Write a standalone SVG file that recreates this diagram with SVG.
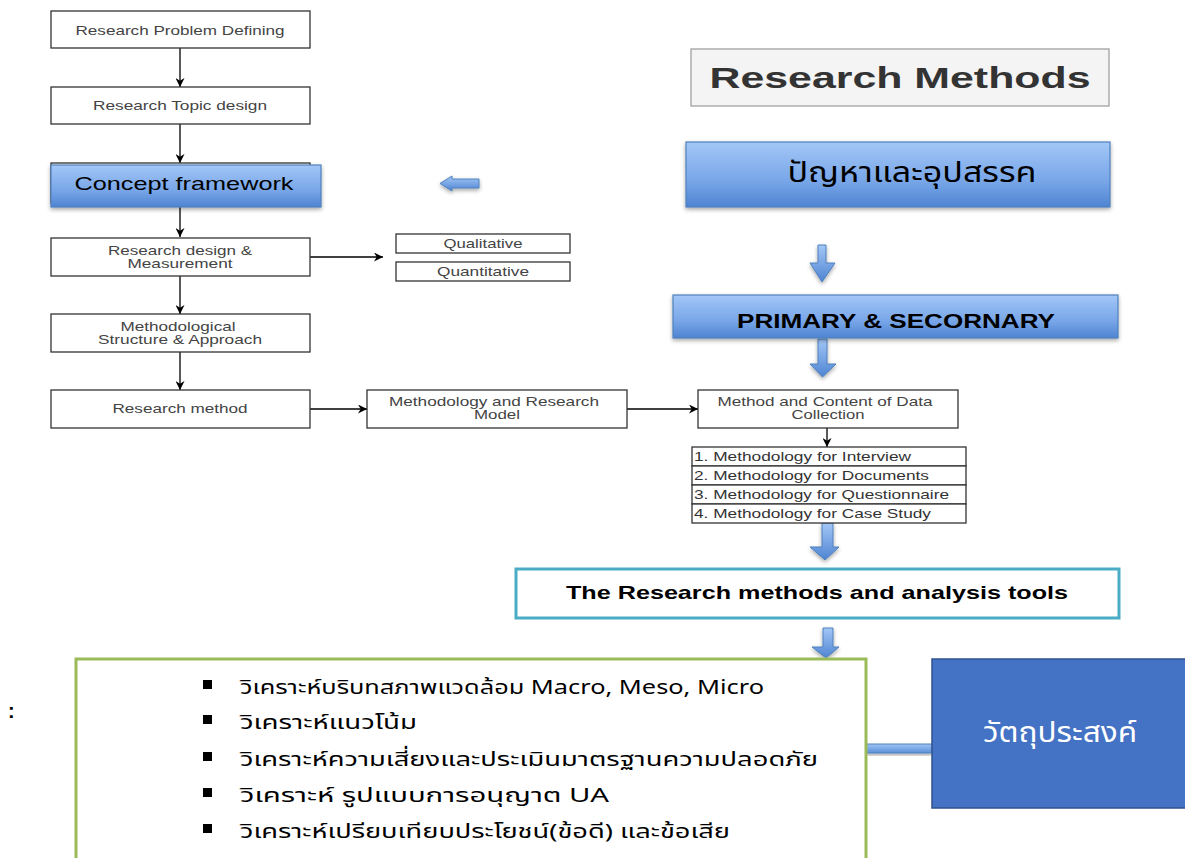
<svg xmlns="http://www.w3.org/2000/svg" width="1185" height="858" viewBox="0 0 1185 858">
<defs>
<linearGradient id="blueG" x1="0" y1="0" x2="0" y2="1">
<stop offset="0" stop-color="#a3c7f7"/>
<stop offset="0.6" stop-color="#78a6e8"/>
<stop offset="1" stop-color="#4f84d2"/>
</linearGradient>
<linearGradient id="arrG" x1="0" y1="0" x2="0" y2="1">
<stop offset="0" stop-color="#a3c7f7"/>
<stop offset="1" stop-color="#4f84d2"/>
</linearGradient>
<linearGradient id="arrH" x1="0" y1="0" x2="0" y2="1">
<stop offset="0" stop-color="#9fc4f5"/>
<stop offset="1" stop-color="#5b8fd8"/>
</linearGradient>
<filter id="sh" x="-10%" y="-20%" width="120%" height="150%">
<feGaussianBlur in="SourceAlpha" stdDeviation="2"/>
<feOffset dx="0" dy="2" result="b"/>
<feComponentTransfer><feFuncA type="linear" slope="0.35"/></feComponentTransfer>
<feMerge><feMergeNode/><feMergeNode in="SourceGraphic"/></feMerge>
</filter>
<marker id="ah" viewBox="0 0 10 10" refX="10" refY="5" markerWidth="9" markerHeight="9" markerUnits="userSpaceOnUse" orient="auto">
<path d="M0,0 L10,5 L0,10 L3,5 z" fill="#000"/>
</marker>
</defs>
<style>
.wb{fill:#fff;stroke:#333;stroke-width:1.3}
.t{font-family:"Liberation Sans",Arial,sans-serif;font-size:13px;fill:#444;text-anchor:middle}
.tl{font-family:"Liberation Sans",Arial,sans-serif;font-size:13px;fill:#333}
.bb{fill:url(#blueG);stroke:#4f81bd;stroke-width:1.2}
.ba{fill:url(#arrG);stroke:#4f81bd;stroke-width:1}
.c{stroke:#000;stroke-width:1.3;fill:none}
.th{font-family:"Noto Sans","Noto Sans Thai",Tahoma,sans-serif;font-size:20px;fill:#000}
</style>
<rect width="1185" height="858" fill="#fff"/>

<g id="connectors">
<line class="c" x1="180" y1="48" x2="180" y2="87" marker-end="url(#ah)"/>
<line class="c" x1="180" y1="124" x2="180" y2="163" marker-end="url(#ah)"/>
<line class="c" x1="180" y1="207" x2="180" y2="237" marker-end="url(#ah)"/>
<line class="c" x1="180" y1="276" x2="180" y2="314" marker-end="url(#ah)"/>
<line class="c" x1="180" y1="352" x2="180" y2="390" marker-end="url(#ah)"/>
<line class="c" x1="310" y1="257" x2="383" y2="257" marker-end="url(#ah)"/>
<line class="c" x1="310" y1="409" x2="367" y2="409" marker-end="url(#ah)"/>
<line class="c" x1="627" y1="409" x2="698" y2="409" marker-end="url(#ah)"/>
<line class="c" x1="827" y1="428" x2="827" y2="447" marker-end="url(#ah)"/>
<path class="ba" filter="url(#sh)" d="M479,179 L452,179 L452,176 L440,183.5 L452,191 L452,188 L479,188 z"/>
<path class="ba" filter="url(#sh)" d="M818,245 L826,245 L826,263 L835,263 L822,282 L810,263 L818,263 z"/>
<path class="ba" filter="url(#sh)" d="M818,339 L827,339 L827,364 L836,364 L822.5,377 L810,364 L818,364 z"/>
<path class="ba" filter="url(#sh)" d="M822,523 L833,523 L833,547 L839,547 L825,560 L810,547 L822,547 z"/>
<path class="ba" filter="url(#sh)" d="M823,628 L833,628 L833,647 L839,647 L826,658 L812,647 L823,647 z"/>
<rect x="866" y="744" width="66" height="9" fill="url(#arrH)" stroke="#4f81bd" stroke-width="1" filter="url(#sh)"/>
</g>

<g id="n-problem">
<rect class="wb" x="51" y="11" width="259" height="37"/>
<text class="t" x="180" y="35" textLength="209" lengthAdjust="spacingAndGlyphs">Research Problem Defining</text>
</g>
<g id="n-topic">
<rect class="wb" x="51" y="87" width="259" height="37"/>
<text class="t" x="180" y="110" textLength="174" lengthAdjust="spacingAndGlyphs">Research Topic design</text>
</g>
<g id="n-concept">
<rect class="wb" x="51" y="163" width="259" height="40"/>
<rect class="bb" x="51" y="165" width="270" height="42" filter="url(#sh)"/>
<text x="184" y="190" font-family="'Liberation Sans',Arial,sans-serif" font-size="19" fill="#000" text-anchor="middle" textLength="219" lengthAdjust="spacingAndGlyphs">Concept framework</text>
</g>
<g id="n-design">
<rect class="wb" x="51" y="238" width="259" height="38"/>
<text class="t" x="180" y="255" textLength="144" lengthAdjust="spacingAndGlyphs">Research design &amp;</text>
<text class="t" x="180" y="268" textLength="105" lengthAdjust="spacingAndGlyphs">Measurement</text>
</g>
<g id="n-qual">
<rect class="wb" x="396" y="234" width="174" height="19"/>
<text class="t" x="483" y="248" textLength="79" lengthAdjust="spacingAndGlyphs">Qualitative</text>
</g>
<g id="n-quant">
<rect class="wb" x="396" y="262" width="174" height="19"/>
<text class="t" x="483" y="276" textLength="92" lengthAdjust="spacingAndGlyphs">Quantitative</text>
</g>
<g id="n-structure">
<rect class="wb" x="51" y="314" width="259" height="38"/>
<text class="t" x="178" y="331" textLength="115" lengthAdjust="spacingAndGlyphs">Methodological</text>
<text class="t" x="180" y="344" textLength="164" lengthAdjust="spacingAndGlyphs">Structure &amp; Approach</text>
</g>
<g id="n-method">
<rect class="wb" x="51" y="390" width="259" height="38"/>
<text class="t" x="180" y="413" textLength="135" lengthAdjust="spacingAndGlyphs">Research method</text>
</g>
<g id="n-model">
<rect class="wb" x="367" y="390" width="260" height="38"/>
<text class="t" x="494" y="406" textLength="210" lengthAdjust="spacingAndGlyphs">Methodology and Research</text>
<text class="t" x="497" y="419" textLength="46" lengthAdjust="spacingAndGlyphs">Model</text>
</g>
<g id="n-collection">
<rect class="wb" x="698" y="390" width="260" height="38"/>
<text class="t" x="825" y="406" textLength="215" lengthAdjust="spacingAndGlyphs">Method and Content of Data</text>
<text class="t" x="828" y="419" textLength="73" lengthAdjust="spacingAndGlyphs">Collection</text>
</g>
<g id="n-list">
<rect class="wb" x="692" y="447" width="274" height="19"/>
<rect class="wb" x="692" y="466" width="274" height="19"/>
<rect class="wb" x="692" y="485" width="274" height="19"/>
<rect class="wb" x="692" y="504" width="274" height="19"/>
<text class="tl" x="694" y="461" textLength="217" lengthAdjust="spacingAndGlyphs">1. Methodology for Interview</text>
<text class="tl" x="694" y="480" textLength="235" lengthAdjust="spacingAndGlyphs">2. Methodology for Documents</text>
<text class="tl" x="694" y="499" textLength="255" lengthAdjust="spacingAndGlyphs">3. Methodology for Questionnaire</text>
<text class="tl" x="694" y="518" textLength="237" lengthAdjust="spacingAndGlyphs">4. Methodology for Case Study</text>
</g>
<g id="n-title">
<rect x="691" y="49" width="418" height="57" fill="#f4f4f4" stroke="#999" stroke-width="1.2"/>
<text x="900" y="88" font-family="'Liberation Sans',Arial,sans-serif" font-weight="bold" font-size="29" fill="#333" text-anchor="middle" textLength="381" lengthAdjust="spacingAndGlyphs">Research Methods</text>
</g>
<g id="n-problems-th">
<rect class="bb" x="686" y="142" width="424" height="65" filter="url(#sh)"/>
<text x="912" y="182" font-family="'Noto Sans','Noto Sans Thai',Tahoma,sans-serif" font-size="29" fill="#000" text-anchor="middle" textLength="249" lengthAdjust="spacingAndGlyphs">ปัญหาและอุปสรรค</text>
</g>
<g id="n-primary">
<rect class="bb" x="673" y="295" width="445" height="43" filter="url(#sh)"/>
<text x="896" y="328" font-family="'Liberation Sans',Arial,sans-serif" font-weight="bold" font-size="21" fill="#000" text-anchor="middle" textLength="318" lengthAdjust="spacingAndGlyphs">PRIMARY &amp; SECORNARY</text>
</g>
<g id="n-tools">
<rect x="516" y="569" width="603" height="49" fill="#fff" stroke="#4bacc6" stroke-width="3"/>
<text x="817" y="599" font-family="'Liberation Sans',Arial,sans-serif" font-weight="bold" font-size="19" fill="#000" text-anchor="middle" textLength="502" lengthAdjust="spacingAndGlyphs">The Research methods and analysis tools</text>
</g>
<g id="n-analysis">
<rect x="76" y="659" width="790" height="210" fill="#fff" stroke="#9bbb59" stroke-width="3"/>
<rect x="203" y="680" width="9" height="9" fill="#000"/>
<rect x="203" y="715" width="9" height="9" fill="#000"/>
<rect x="203" y="752" width="9" height="9" fill="#000"/>
<rect x="203" y="788" width="9" height="9" fill="#000"/>
<rect x="203" y="824" width="9" height="9" fill="#000"/>
<text class="th" x="240" y="694" textLength="524" lengthAdjust="spacingAndGlyphs">วิเคราะห์บริบทสภาพแวดล้อม Macro, Meso, Micro</text>
<text class="th" x="240" y="729" textLength="177" lengthAdjust="spacingAndGlyphs">วิเคราะห์แนวโน้ม</text>
<text class="th" x="240" y="766" textLength="578" lengthAdjust="spacingAndGlyphs">วิเคราะห์ความเสี่ยงและประเมินมาตรฐานความปลอดภัย</text>
<text class="th" x="240" y="802" textLength="369" lengthAdjust="spacingAndGlyphs">วิเคราะห์ รูปแบบการอนุญาต UA</text>
<text class="th" x="240" y="838" textLength="490" lengthAdjust="spacingAndGlyphs">วิเคราะห์เปรียบเทียบประโยชน์(ข้อดี) และข้อเสีย</text>
</g>
<g id="n-objective">
<rect x="932" y="659" width="260" height="149" fill="#4472c4" stroke="#2f528f" stroke-width="1.5"/>
<text x="1060" y="742" font-family="'Noto Sans','Noto Sans Thai',Tahoma,sans-serif" font-size="28" fill="#fff" text-anchor="middle" textLength="154" lengthAdjust="spacingAndGlyphs">วัตถุประสงค์</text>
</g>
<text x="8" y="718" font-family="'Liberation Sans',Arial,sans-serif" font-size="20" font-weight="bold" fill="#000">:</text>
</svg>
